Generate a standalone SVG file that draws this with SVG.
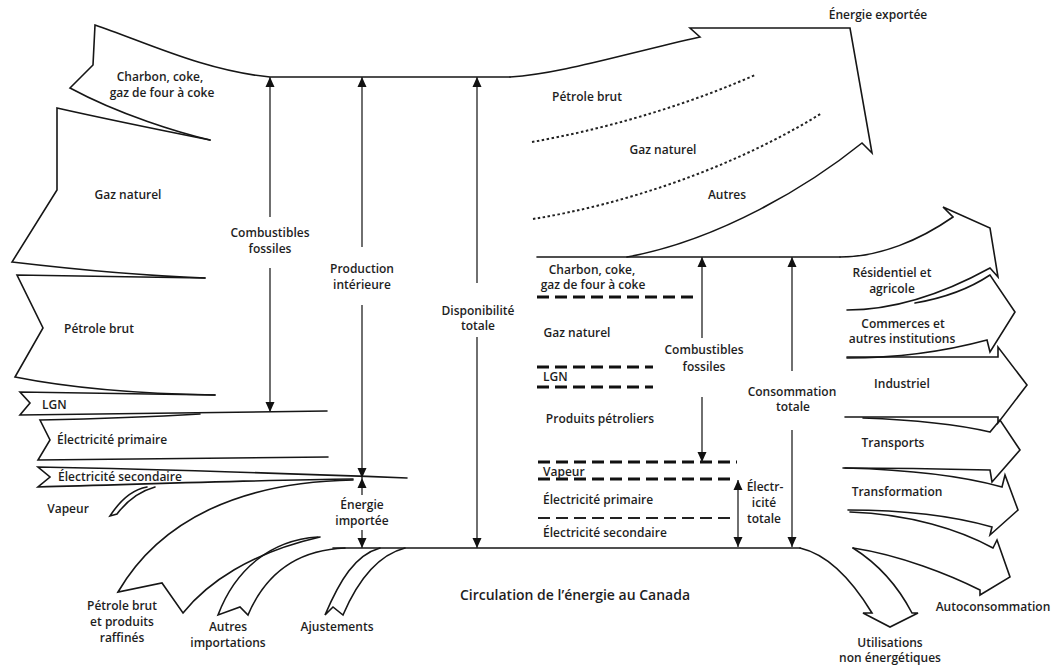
<svg xmlns="http://www.w3.org/2000/svg" width="1059" height="670" viewBox="0 0 1059 670">
  <defs>
    <marker id="tip" viewBox="0 0 10 10" refX="10" refY="5" markerWidth="10" markerHeight="10" markerUnits="userSpaceOnUse" orient="auto-start-reverse">
      <path d="M0,0.5 L10,5 L0,9.5 z" fill="#111"/>
    </marker>
    <style>
      .ln { fill: none; stroke: #161616; stroke-width: 1.6; stroke-linejoin: miter; stroke-linecap: round; }
      .ms { fill: none; stroke: #222; stroke-width: 1.3; }
      .dsh { fill: none; stroke: #111; stroke-width: 3; stroke-dasharray: 12 6; }
      .dsh2 { fill: none; stroke: #222; stroke-width: 2; stroke-dasharray: 12 6; }
      .dot { fill: none; stroke: #222; stroke-width: 2; stroke-dasharray: 2.5 2.5; }
      text { font-family: "Open Sans", "Liberation Sans", sans-serif; font-size: 12px; font-weight: 600; fill: #1e1e1e; }
      .c { text-anchor: middle; }
      .cap { font-size: 14px; }
    </style>
  </defs>
  <rect width="1059" height="670" fill="#fff"/>

  <!-- Supply side: domestic production bands -->
  <g id="charbon-prod">
    <path class="ln" d="M210,140 C180,133 120,115 70,88 L93,65 L95,25 C145,42 205,71 270,77 L510,77"/>
    <text class="c" x="160" y="81">Charbon, coke,</text>
    <text class="c" x="162" y="97">gaz de four à coke</text>
  </g>
  <g id="gaz-prod">
    <path class="ln" d="M210,140 C170,132 110,120 57,108 L57,190 L12,262 C80,270 150,276 205,278"/>
    <text class="c" x="128" y="199">Gaz naturel</text>
  </g>
  <g id="petrole-prod">
    <path class="ln" d="M205,278 C150,277 80,276 17,275 L43,328 L15,377 C80,390 150,394 215,395"/>
    <text class="c" x="99" y="333">Pétrole brut</text>
  </g>
  <g id="lgn-prod">
    <path class="ln" d="M215,395 C150,394 80,393 20,392 L30,403 L20,415 L327,411"/>
    <text x="42" y="409">LGN</text>
  </g>
  <g id="elec-prim-prod">
    <path class="ln" d="M200,414 C150,417 90,419 40,420 L50,440 L38,460 L328,457"/>
    <text x="57" y="444">Électricité primaire</text>
  </g>
  <g id="elec-sec-prod">
    <path class="ln" d="M407,478 C300,474 150,469 38,467 L50,477 L38,487 C150,484 260,480 353,479"/>
    <text x="58" y="481">Électricité secondaire</text>
  </g>
  <g id="vapeur-prod">
    <path class="ln" d="M147,487 C130,490 119,502 110,516 L117,514 C126,502 137,492 155,487"/>
    <text class="c" x="68" y="513">Vapeur</text>
  </g>

  <!-- Imports and adjustments -->
  <g id="petrole-import">
    <path class="ln" d="M353,480 C240,482 160,520 118,592 L162,583 L183,613 C207,583 250,553 320,537"/>
    <text class="c" x="122" y="610">Pétrole brut</text>
    <text class="c" x="122" y="626">et produits</text>
    <text class="c" x="122" y="642">raffinés</text>
  </g>
  <g id="autres-import">
    <path class="ln" d="M318,537 C270,540 235,570 218,615 L240,607 L248,615 C265,575 295,550 345,548"/>
    <text class="c" x="228" y="631">Autres</text>
    <text class="c" x="228" y="647">importations</text>
  </g>
  <g id="ajustements">
    <path class="ln" d="M380,548 C355,555 340,580 325,615 L333,607 L343,615 C358,580 378,555 405,548"/>
    <text class="c" x="337" y="631">Ajustements</text>
  </g>

  <!-- Exports -->
  <g id="export">
    <path class="ln" d="M510,77 C560,74 620,55 700,37 L690,28 L850,28 L872,153 L862,143 C810,185 720,240 627,257"/>
    <path class="dot" d="M532,142 C600,130 680,108 755,75"/>
    <path class="dot" d="M533,219 C620,205 730,170 822,113"/>
    <text class="c" x="878" y="19">Énergie exportée</text>
    <text class="c" x="587" y="101">Pétrole brut</text>
    <text class="c" x="663" y="154">Gaz naturel</text>
    <text class="c" x="727" y="199">Autres</text>
  </g>

  <!-- Total supply trunk -->
  <g id="trunk">
    <path class="ln" d="M333,548 L800,548"/>
    <path class="ln" d="M537,257 L840,257"/>
    <text class="c cap" x="575" y="600">Circulation de l’énergie au Canada</text>
  </g>

  <!-- Consumption block by fuel -->
  <g id="conso-fuels">
    <path class="dsh" d="M537,297 H697"/>
    <path class="dsh" d="M537,367 H653"/>
    <path class="dsh" d="M537,387 H653"/>
    <path class="dsh" d="M538,462 H737"/>
    <path class="dsh" d="M538,479 H733"/>
    <path class="dsh2" d="M538,518 H733"/>
    <text class="c" x="592" y="274">Charbon, coke,</text>
    <text class="c" x="593" y="289">gaz de four à coke</text>
    <text class="c" x="577" y="337">Gaz naturel</text>
    <text x="543" y="381">LGN</text>
    <text class="c" x="600" y="423">Produits pétroliers</text>
    <text x="543" y="476">Vapeur</text>
    <text x="543" y="504">Électricité primaire</text>
    <text x="543" y="537">Électricité secondaire</text>
  </g>

  <!-- Final demand sectors -->
  <g id="residentiel">
    <path class="ln" d="M840,257 C880,257 920,240 953,217 L943,207 L990,228 L998,277 L990,268 C950,290 900,310 847,310"/>
    <text class="c" x="892" y="277">Résidentiel et</text>
    <text class="c" x="892" y="293">agricole</text>
  </g>
  <g id="commerces">
    <path class="ln" d="M915,303 C950,297 975,285 990,275 L1015,312 L990,352 L987,340 C950,350 900,358 847,358"/>
    <text class="c" x="903" y="328">Commerces et</text>
    <text class="c" x="902" y="343">autres institutions</text>
  </g>
  <g id="industriel">
    <path class="ln" d="M847,357 L998,357 L998,347 L1027,385 L998,423 L998,417 L845,417"/>
    <text class="c" x="902" y="388">Industriel</text>
  </g>
  <g id="transports">
    <path class="ln" d="M863,418 C920,420 960,425 990,432 L1000,420 L1020,450 L992,482 L990,470 C950,469 900,468 843,468"/>
    <text class="c" x="893" y="447">Transports</text>
  </g>
  <g id="transformation">
    <path class="ln" d="M845,468 C920,470 970,478 1002,487 L1005,475 L1018,510 L990,535 L992,527 C950,515 900,510 848,510"/>
    <text class="c" x="897" y="496">Transformation</text>
  </g>
  <g id="autoconsommation">
    <path class="ln" d="M850,512 C910,514 960,530 993,548 L997,540 L1010,577 L980,595 L980,590 C950,575 900,555 853,548"/>
    <text class="c" x="993" y="611">Autoconsommation</text>
  </g>
  <g id="non-energetique">
    <path class="ln" d="M800,548 C830,555 855,585 872,613 L863,613 L890,627 L918,613 L912,613 C900,590 880,565 853,548"/>
    <text class="c" x="890" y="647">Utilisations</text>
    <text class="c" x="890" y="662">non énergétiques</text>
  </g>

  <!-- Measurement connectors -->
  <g id="connectors">
    <path class="ms" d="M270,217 V77" marker-end="url(#tip)"/>
    <path class="ms" d="M270,268 V412" marker-end="url(#tip)"/>
    <path class="ms" d="M362,247 V77" marker-end="url(#tip)"/>
    <path class="ms" d="M362,305 V478" marker-end="url(#tip)"/>
    <path class="ms" d="M362,495 V478" marker-end="url(#tip)"/>
    <path class="ms" d="M362,530 V548" marker-end="url(#tip)"/>
    <path class="ms" d="M477,283 V77" marker-end="url(#tip)"/>
    <path class="ms" d="M477,337 V548" marker-end="url(#tip)"/>
    <path class="ms" d="M702,338 V257" marker-end="url(#tip)"/>
    <path class="ms" d="M702,397 V462" marker-end="url(#tip)"/>
    <path class="ms" d="M792,371 V257" marker-end="url(#tip)"/>
    <path class="ms" d="M792,430 V547" marker-end="url(#tip)"/>
    <path class="ms" d="M738,480 V547" marker-start="url(#tip)" marker-end="url(#tip)"/>
  </g>
  <g id="connector-labels">
    <text class="c" x="270" y="237">Combustibles</text>
    <text class="c" x="270" y="253">fossiles</text>
    <text class="c" x="362" y="273">Production</text>
    <text class="c" x="362" y="289">intérieure</text>
    <text class="c" x="362" y="509">Énergie</text>
    <text class="c" x="362" y="525">importée</text>
    <text class="c" x="478" y="315">Disponibilité</text>
    <text class="c" x="478" y="330">totale</text>
    <text class="c" x="704" y="354">Combustibles</text>
    <text class="c" x="704" y="371">fossiles</text>
    <text class="c" x="792" y="396">Consommation</text>
    <text class="c" x="793" y="411">totale</text>
    <text class="c" x="765" y="491">Électr-</text>
    <text class="c" x="764" y="507">icité</text>
    <text class="c" x="764" y="523">totale</text>
  </g>
</svg>
